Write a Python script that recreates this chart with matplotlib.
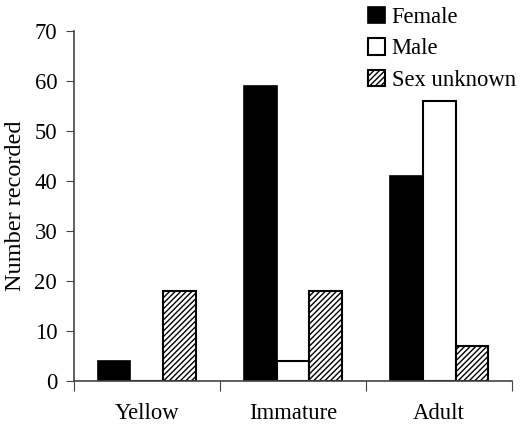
import matplotlib.pyplot as plt
import numpy as np

plt.rcParams['font.family'] = ['Liberation Serif', 'DejaVu Serif']
plt.rcParams['hatch.linewidth'] = 1.0

categories = ['Yellow', 'Immature', 'Adult']
female = [4, 59, 41]
male = [0, 4, 56]
unknown = [18, 18, 7]

x = np.arange(len(categories))
w = 0.225

fig = plt.figure(figsize=(5.2, 4.38), dpi=100)
ax = fig.add_axes([0.142, 0.130, 0.843, 0.799])

b1 = ax.bar(x - w, female, w, color='black', edgecolor='black', linewidth=1.2, label='Female')
b2 = ax.bar(x, male, w, color='white', edgecolor='black', linewidth=1.5, label='Male')
b3 = ax.bar(x + w, unknown, w, color='white', edgecolor='black', linewidth=1.5,
            hatch='//////', label='Sex unknown')

ax.set_xlim(-0.5, 2.5)
ax.set_ylim(0, 70)
ax.set_yticks(range(0, 71, 10))
ax.set_xticks([-0.5, 0.5, 1.5, 2.5])
ax.set_xticklabels([])
ax.set_xticks(x, minor=True)
ax.set_xticklabels(categories, minor=True)
ax.tick_params(axis='x', which='minor', length=0, pad=16, labelsize=16.3)
ax.tick_params(axis='x', which='major', length=7, direction='out', color='#444444')
ax.tick_params(axis='y', length=6, direction='out', labelsize=16.3, pad=6, color='#444444')
for s in ['top', 'right']:
    ax.spines[s].set_visible(False)
for s in ['left', 'bottom']:
    ax.spines[s].set_color('#444444')
    ax.spines[s].set_linewidth(1.2)
ax.set_ylabel('Number recorded', fontsize=17.5, labelpad=6)

fig.legend(handles=[b1, b2, b3], loc='upper left', bbox_to_anchor=(0.69, 1.005),
           frameon=False, fontsize=16.3, handlelength=0.75, handleheight=0.75,
           handletextpad=0.3, labelspacing=0.45, borderaxespad=0)

plt.savefig('out.png', dpi=100)
